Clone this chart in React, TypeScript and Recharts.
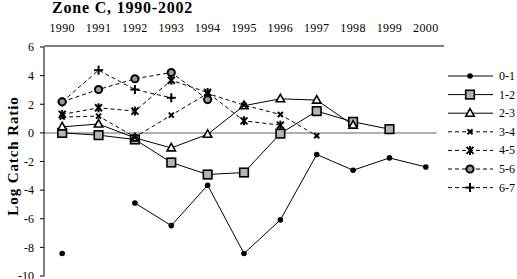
import React from 'react';
import { LineChart, Line, XAxis, YAxis, ReferenceLine } from 'recharts';

const years = [1990, 1991, 1992, 1993, 1994, 1995, 1996, 1997, 1998, 1999, 2000];
const s01 = [-8.43, null, -4.9, -6.48, -3.66, -8.43, -6.08, -1.51, -2.61, -1.75, -2.38];
const s12 = [0.0, -0.16, -0.46, -2.07, -2.91, -2.77, -0.05, 1.52, 0.77, 0.26, null];
const s23 = [0.42, 0.62, -0.35, -1.05, -0.1, 1.9, 2.38, 2.29, 0.54, null, null];
const s34 = [1.1, 1.17, -0.3, 1.24, 2.75, 1.94, 1.28, -0.2, null, null, null];
const s45 = [1.29, 1.75, 1.52, 3.68, 2.82, 0.84, 0.54, null, null, null, null];
const s56 = [2.17, 3.03, 3.78, 4.22, 2.33, null, null, null, null, null, null];
const s67 = [2.17, 4.38, 3.03, 2.45, null, null, null, null, null, null, null];
const yTicks = [-10, -8, -6, -4, -2, 0, 2, 4, 6];
const boundaryTicks = [1989.5, 1990.5, 1991.5, 1992.5, 1993.5, 1994.5, 1995.5, 1996.5, 1997.5, 1998.5, 1999.5, 2000.5];

const data = years.map((y, i) => ({
  year: y,
  a: s01[i], b: s12[i], c: s23[i], d: s34[i], e: s45[i], f: s56[i], g: s67[i],
}));

const FONT = '"Liberation Serif", "Times New Roman", serif';

type Shape = 'dot' | 'square' | 'triangle' | 'x' | 'asterisk' | 'circle' | 'plus';

const series: { key: string; name: string; shape: Shape; dashed: boolean }[] = [
  { key: 'a', name: '0-1', shape: 'dot', dashed: false },
  { key: 'b', name: '1-2', shape: 'square', dashed: false },
  { key: 'c', name: '2-3', shape: 'triangle', dashed: false },
  { key: 'd', name: '3-4', shape: 'x', dashed: true },
  { key: 'e', name: '4-5', shape: 'asterisk', dashed: true },
  { key: 'f', name: '5-6', shape: 'circle', dashed: true },
  { key: 'g', name: '6-7', shape: 'plus', dashed: true },
];

function Marker({ shape, cx, cy }: { shape: Shape; cx: number; cy: number }) {
  switch (shape) {
    case 'dot':
      return <circle cx={cx} cy={cy} r={2.8} fill="#000" />;
    case 'square':
      return <rect x={cx - 4.3} y={cy - 4.3} width={8.6} height={8.6} fill="#b4b4b4" stroke="#000" strokeWidth={1.6} />;
    case 'triangle':
      return <polygon points={`${cx},${cy - 4.5} ${cx + 4.2},${cy + 3} ${cx - 4.2},${cy + 3}`} fill="#fff" stroke="#000" strokeWidth={1.6} />;
    case 'x':
      return (
        <g stroke="#000" strokeWidth={2}>
          <line x1={cx - 2.5} y1={cy - 2.5} x2={cx + 2.5} y2={cy + 2.5} />
          <line x1={cx - 2.5} y1={cy + 2.5} x2={cx + 2.5} y2={cy - 2.5} />
        </g>
      );
    case 'asterisk':
      return (
        <g stroke="#000" strokeWidth={2}>
          <line x1={cx - 3.5} y1={cy - 3.5} x2={cx + 3.5} y2={cy + 3.5} />
          <line x1={cx - 3.5} y1={cy + 3.5} x2={cx + 3.5} y2={cy - 3.5} />
          <line x1={cx} y1={cy - 4.5} x2={cx} y2={cy + 4.5} />
        </g>
      );
    case 'circle':
      return <circle cx={cx} cy={cy} r={3.6} fill="#9a9a9a" stroke="#000" strokeWidth={2} />;
    case 'plus':
      return (
        <g stroke="#000" strokeWidth={2}>
          <line x1={cx - 4.5} y1={cy} x2={cx + 4.5} y2={cy} />
          <line x1={cx} y1={cy - 4.5} x2={cx} y2={cy + 4.5} />
        </g>
      );
  }
  return null;
}

function makeDot(shape: Shape) {
  return (props: any) => {
    const { cx, cy, value, index } = props;
    if (cx == null || cy == null || value == null || Number.isNaN(cy)) return <g key={`n${index}`} />;
    return (
      <g key={`m${index}`}>
        <Marker shape={shape} cx={cx} cy={cy} />
      </g>
    );
  };
}

function LegendBox() {
  const rowH = 18.6;
  return (
    <svg width={71} height={rowH * series.length + 4} style={{ overflow: 'visible', display: 'block' }}>
      {series.map((s, i) => {
        const y = 2 + rowH * i + 6;
        return (
          <g key={s.key}>
            <line x1={2} y1={y} x2={47} y2={y} stroke="#000" strokeWidth={1} strokeDasharray={s.dashed ? '4 3' : undefined} />
            <Marker shape={s.shape} cx={24} cy={y} />
            <text x={53} y={y + 4} fontFamily={FONT} fontSize={12} fill="#000">{s.name}</text>
          </g>
        );
      })}
    </svg>
  );
}

const renderOrder = ['a', 'b', 'c', 'd', 'e', 'g', 'f'];

export default function App() {
  return (
    <div style={{ position: 'absolute', left: 0, top: 0, width: 517, height: 279, background: '#fff' }}>
      <div
        style={{
          position: 'absolute', left: 52, top: 0, fontFamily: FONT, fontWeight: 'bold', fontSize: 16,
          lineHeight: '16px', letterSpacing: 0.8, color: '#000', whiteSpace: 'nowrap', zIndex: 2,
        }}
      >
        Zone C, 1990-2002
      </div>
      <div
        style={{
          position: 'absolute', left: 13, top: 156, transform: 'translate(-50%, -50%) rotate(-90deg)',
          fontFamily: FONT, fontWeight: 'bold', fontSize: 15, letterSpacing: 0.9, color: '#000', whiteSpace: 'nowrap', zIndex: 2,
        }}
      >
        Log Catch Ratio
      </div>
      <div style={{ position: 'absolute', left: 446, top: 68, zIndex: 2 }}>
        <LegendBox />
      </div>
      <LineChart width={517} height={279} data={data} margin={{ top: 45, right: 73, bottom: 3, left: 0 }}>
        <XAxis
          xAxisId="tk"
          type="number"
          orientation="top"
          domain={[1989.5, 2000.5]}
          ticks={boundaryTicks}
          height={1}
          interval={0}
          axisLine={{ stroke: '#000', strokeWidth: 1 }}
          tickLine={{ stroke: '#000', strokeWidth: 1 }}
          tickSize={4}
          tickFormatter={() => ''}
        />
        <XAxis
          xAxisId="lab"
          dataKey="year"
          type="number"
          orientation="top"
          domain={[1989.5, 2000.5]}
          ticks={years}
          height={1}
          axisLine={false}
          tickLine={false}
          tickSize={0}
          tickMargin={15}
          interval={0}
          tick={{ fontFamily: FONT, fontSize: 12, fill: '#000', letterSpacing: 0.4 }}
        />
        <YAxis
          type="number"
          domain={[-10, 6]}
          ticks={yTicks}
          interval={0}
          width={44}
          axisLine={{ stroke: '#000', strokeWidth: 1 }}
          tickLine={{ stroke: '#000', strokeWidth: 1 }}
          tickSize={4}
          tickMargin={6}
          tick={{ fontFamily: FONT, fontSize: 12, fill: '#000' }}
        />
        <ReferenceLine
          xAxisId="lab"
          segment={[{ x: 1989.5, y: 0 }, { x: 2000.3, y: 0 }]}
          stroke="#b0b0b0"
          strokeWidth={2}
        />
        {renderOrder.map((k) => {
          const s = series.find((x) => x.key === k)!;
          return (
            <Line
              key={s.key}
              xAxisId="lab"
              dataKey={s.key}
              name={s.name}
              stroke="#000"
              strokeWidth={1}
              strokeDasharray={s.dashed ? '4 3' : undefined}
              dot={makeDot(s.shape)}
              activeDot={false}
              connectNulls={false}
              isAnimationActive={false}
            />
          );
        })}
      </LineChart>
    </div>
  );
}
